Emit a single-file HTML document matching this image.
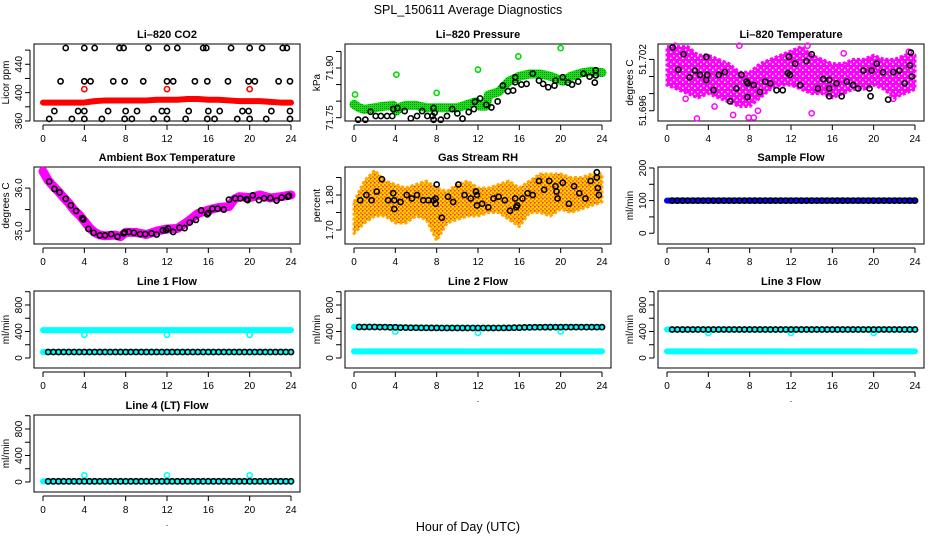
<!DOCTYPE html>
<html><head><meta charset="utf-8"><style>
html,body{margin:0;padding:0;background:#fff;}
svg{display:block;font-family:"Liberation Sans",Arial,sans-serif;}
</style></head><body>
<svg id="chart" width="936" height="540" viewBox="0 0 936 540" xmlns="http://www.w3.org/2000/svg">
<defs>
<pattern id="rhpat" width="4" height="4" patternUnits="userSpaceOnUse"><rect width="4" height="4" fill="#ffd000"/><rect width="2" height="2" fill="#ff8000"/><rect x="2" y="2" width="1.5" height="1.5" fill="#ff2000"/></pattern>
<pattern id="grpat" width="2" height="2" patternUnits="userSpaceOnUse"><rect width="2" height="2" fill="#00ee00"/><rect width="1" height="1" fill="#008800"/></pattern>
<pattern id="mgpat" width="6" height="6" patternUnits="userSpaceOnUse"><rect width="6" height="6" fill="#ff00ff"/><rect x="1" y="1" width="1.5" height="1.5" fill="#ffffff"/><rect x="4" y="3.5" width="1.5" height="1.5" fill="#ffffff"/></pattern>
</defs>
<text x="468" y="14" text-anchor="middle" font-size="12.5">SPL_150611  Average Diagnostics</text>
<text x="468" y="531" text-anchor="middle" font-size="12.5">Hour of Day (UTC)</text>
</svg>
<script>
// ---------- data ----------
const xTicks=[0,4,8,12,16,20,24];
// CO2
const co2BlackT=[2.2,4,5,7.4,7.8,10.2,12,13,15.5,15.8,18.2,20,21.2,23.2,23.6, 1.7,4,4.6,6.8,7.9,9.7,12,12.6,14.7,15.9,17.9,19.9,20.5,22.8,23.9, 1.1,3.4,4,6.3,8,9.1,11.5,12,14.1,16,17.1,19.3,19.9,22.1,23.9, 0.6,2.8,4,5.7,7.9,8.6,10.7,12,13.8,15.9,16.6,18.8,20,21.6,23.9];
const co2BlackV=[463,463,463,463,463,463,463,463,463,463,463,463,463,463,463, 416,416,416,416,416,416,416,416,416,416,416,416,416,416,416, 374,374,374,374,374,374,374,374,374,374,374,374,374,374,374, 363,363,363,363,363,363,363,363,363,363,363,363,363,363,363];
const hours=[0,1,2,3,4,5,6,7,8,9,10,11,12,13,14,15,16,17,18,19,20,21,22,23,24];
const co2Red=[386,386,386,386,386,388,389,389,389,389,389,390,390,390,391,391,390,390,389,388,388,388,387,386,386];
const co2OutT=[4,12,20];
const co2OutV=[405,405,405];
// Pressure
const prGreenT=[0,0.5,1,2,3,3.8,4.1,4.5,5,6,7,8,9,10,11,11.8,12.2,12.8,13,14,15,16,17,18,19,19.8,20.2,21,22,23,24];
const prGreenV=[71.79,71.78,71.775,71.78,71.785,71.787,71.77,71.782,71.787,71.787,71.78,71.78,71.78,71.78,71.79,71.798,71.785,71.785,71.818,71.828,71.86,71.875,71.882,71.882,71.875,71.865,71.86,71.875,71.885,71.89,71.886];
const prOutT=[0.1,4.1,8,12,15.9,20];
const prOutV=[71.82,71.88,71.825,71.895,71.935,71.96];
const prBlackT=[0.4,1.1,1.6,2.1,2.6,3.2,3.7,3.8,4.2,4.9,5.5,6.1,6.6,7.1,7.6,7.7,7.8,7.7,8.4,9,9.5,10,10.5,11.1,11.6,11.7,12.2,12.8,13.3,13.9,14.4,14.9,15.4,15.6,15.6,16.2,16.7,17.3,17.9,18.3,18.8,19.4,19.5,20.2,20.7,21.1,21.7,22.2,22.8,23.3,23.4,23.4];
const prBlackV=[71.744,71.744,71.768,71.755,71.755,71.755,71.755,71.776,71.779,71.77,71.748,71.755,71.77,71.755,71.755,71.779,71.765,71.744,71.744,71.755,71.776,71.763,71.747,71.767,71.776,71.798,71.808,71.789,71.781,71.799,71.847,71.83,71.832,71.872,71.857,71.85,71.852,71.883,71.862,71.852,71.842,71.847,71.862,71.872,71.856,71.85,71.859,71.883,71.874,71.856,71.893,71.878];
// Li-820 temperature
const tmpHi=[51.7035,51.7035,51.7035,51.7025,51.7025,51.702,51.7015,51.7005,51.7005,51.7015,51.702,51.7025,51.703,51.7035,51.7025,51.702,51.7015,51.7015,51.702,51.702,51.7025,51.702,51.702,51.7025,51.7025];
const tmpLo=[51.699,51.6985,51.698,51.6975,51.698,51.6975,51.697,51.6965,51.6965,51.6975,51.6985,51.699,51.699,51.6985,51.698,51.698,51.6975,51.698,51.6985,51.6985,51.699,51.6985,51.6975,51.698,51.6985];
const tmpOutT=[1.8,2.9,4.6,6.4,7.9,8.4,8.8,14.0,17.1,21.9,0.8,7.0,13.6,23.4];
const tmpOutV=[51.6974,51.6951,51.6965,51.6955,51.6952,51.6952,51.696,51.6957,51.7027,51.6974,51.7036,51.7036,51.7036,51.7029];
const tmpBlackT=[0.55,1.1,1.6,2.2,2.7,3.2,3.8,3.8,3.9,4.5,5,5.6,6.1,6.7,7.2,7.7,7.8,7.8,8.4,9,9.5,10,10.6,11.2,11.7,11.8,11.9,12.4,12.9,13.5,14,14.6,15.1,15.7,15.7,15.7,16.4,16.9,17.4,18,18.5,19,19.6,19.7,19.8,20.3,20.9,21.4,21.9,22.5,23,23.5,23.6,23.7];
const tmpBlackV=[51.7034,51.7008,51.7026,51.6999,51.7007,51.7002,51.6996,51.7023,51.7002,51.6984,51.7002,51.7005,51.6971,51.6986,51.7002,51.6994,51.6992,51.6976,51.699,51.6982,51.6994,51.6992,51.6984,51.6984,51.7004,51.7023,51.7002,51.7015,51.699,51.7018,51.7026,51.6986,51.6997,51.6996,51.6986,51.6977,51.6992,51.6977,51.6994,51.699,51.6986,51.7007,51.6986,51.6977,51.7007,51.7015,51.7005,51.6973,51.7005,51.7007,51.6992,51.7013,51.7028,51.7];
// Ambient box temperature
const ambT=[0,0.5,1,1.5,2,2.5,3,3.5,4,4.5,5,5.5,6,7,7.5,8,9,10,11,12,13,14,15,16,17,18,18.5,19,20,21,22,23,24];
const ambV=[36.39,36.18,36.04,35.92,35.78,35.65,35.49,35.38,35.23,35.08,34.97,34.91,34.89,34.91,34.87,34.97,34.97,34.92,35.0,35.05,35.06,35.22,35.41,35.49,35.55,35.57,35.74,35.8,35.78,35.84,35.77,35.8,35.84];
const ambBT=[0.6,1.1,1.6,2.2,2.7,3.2,3.8,3.9,4.4,4.9,5.5,6,6.6,7.2,7.8,7.9,8.3,8.8,9.4,9.9,10.5,11,11.6,11.9,12.1,12.6,13.2,13.7,14.2,14.8,15.3,15.9,16,16.4,16.9,17.5,18,18.6,19.1,19.7,19.8,20.3,20.9,21.4,22,22.6,23.1,23.7,23.8];
const ambBV=[36.15,35.98,35.9,35.75,35.6,35.47,35.3,35.27,35.05,34.96,34.9,34.9,34.93,34.87,34.95,34.97,34.98,34.96,34.93,34.93,34.95,34.92,35.02,35.02,35.06,34.98,35.08,35.07,35.2,35.26,35.48,35.39,35.42,35.52,35.52,35.5,35.73,35.76,35.76,35.74,35.72,35.83,35.72,35.76,35.77,35.71,35.78,35.8,35.82];
// Gas stream RH
const rhHi=[1.78,1.84,1.87,1.84,1.83,1.82,1.83,1.84,1.82,1.81,1.83,1.84,1.82,1.82,1.83,1.84,1.82,1.84,1.86,1.86,1.86,1.85,1.85,1.86,1.86];
const rhLo=[1.69,1.72,1.74,1.74,1.72,1.72,1.74,1.73,1.67,1.72,1.73,1.74,1.74,1.75,1.75,1.73,1.71,1.75,1.75,1.74,1.76,1.75,1.76,1.77,1.78];
const rhBT=[0.6,1.2,1.7,2.2,2.7,3.3,3.8,3.9,3.9,4.5,5.1,5.6,6.1,6.7,7.2,7.7,7.9,7.9,8.0,8.5,9.1,9.6,10.1,10.7,11.3,11.8,11.9,11.9,12.4,13.0,13.5,14.0,14.6,15.1,15.6,15.7,15.8,16.3,16.8,17.3,17.9,18.4,18.9,19.5,19.6,19.7,20.2,20.8,21.3,21.8,22.4,22.9,23.5,23.5,23.6,23.7];
const rhBV=[1.785,1.80,1.785,1.81,1.845,1.785,1.805,1.785,1.76,1.78,1.80,1.79,1.80,1.785,1.785,1.785,1.79,1.775,1.83,1.735,1.795,1.78,1.83,1.80,1.79,1.81,1.77,1.80,1.775,1.765,1.79,1.795,1.785,1.755,1.79,1.765,1.77,1.79,1.805,1.80,1.84,1.815,1.84,1.825,1.81,1.79,1.835,1.775,1.825,1.805,1.79,1.84,1.865,1.85,1.82,1.80];
// Sample flow
const sfBlue=[100,100,100,100,100,100,100,100,100,100,100,100,100,100,100,100,100,100,100,100,100,100,100,100,100];
const sfBlack=[100,100,100,100,100,100,100,100,100,100,100,100,100,100,100,100,100,100,100,100,100,100,100,100,100];
// line flows
const flowBT=[0.5,1,1.5,2,2.5,3,3.5,4,4.5,5,5.5,6,6.5,7,7.5,8,8.5,9,9.5,10,10.5,11,11.5,12,12.5,13,13.5,14,14.5,15,15.5,16,16.5,17,17.5,18,18.5,19,19.5,20,20.5,21,21.5,22,22.5,23,23.5,24];
const flowOutT=[4,12,20];
const l1Hi=[420,420,420,420,420,420,420,420,420,420,420,420,420,420,420,420,420,420,420,420,420,420,420,420,420];
const l1Lo=[90,90,90,90,90,90,90,90,90,90,90,90,90,90,90,90,90,90,90,90,90,90,90,90,90];
const l1Black=[90,90,90,90,90,90,90,90,90,90,90,90,90,90,90,90,90,90,90,90,90,90,90,90,90];
const l1Out=[350,350,350];
const l2Hi=[470,470,470,468,465,460,458,456,455,455,455,455,455,455,455,455,458,462,465,465,468,468,468,468,468];
const l2Lo=[100,100,100,100,100,100,100,100,100,100,100,100,100,100,100,100,100,100,100,100,100,100,100,100,100];
const l2Black=[468,468,468,466,463,458,456,455,454,453,453,453,453,453,453,454,457,462,464,465,466,466,466,466,466];
const l2Out=[400,380,400];
const l3Hi=[430,430,430,430,430,430,430,430,430,430,430,430,430,430,430,430,430,430,430,430,430,430,430,430,430];
const l3Lo=[100,100,100,100,100,100,100,100,100,100,100,100,100,100,100,100,100,100,100,100,100,100,100,100,100];
const l3Black=[430,430,430,430,430,430,430,430,430,430,430,430,430,430,430,430,430,430,430,430,430,430,430,430,430];
const l3Out=[380,380,380];
const l4Hi=[10,10,10,10,10,10,10,10,10,10,10,10,10,10,10,10,10,10,10,10,10,10,10,10,10];
const l4Black=[10,10,10,10,10,10,10,10,10,10,10,10,10,10,10,10,10,10,10,10,10,10,10,10,10];
const l4Out=[100,100,100];

// ---------- drawing ----------
const NS='http://www.w3.org/2000/svg';
const svg=document.getElementById('chart');
function el(tag,attrs,parent){const e=document.createElementNS(NS,tag);for(const k in attrs)e.setAttribute(k,attrs[k]);(parent||svg).appendChild(e);return e;}
const colX0=[43,354,667], rowT=[44,167,291,415], SPAN=248, BH=77;

function panel(name,col,row,title,ylab,yTop,yBot,ticks,labels){
  const x0=colX0[col], L=x0-9, R=x0+257, T=rowT[row], B=T+BH;
  const g=el('g',{});
  
  
  const x=h=>x0+h*SPAN/24;
  const y=v=>T+(yTop-v)/(yTop-yBot)*BH;
  const box=el('rect',{x:L,y:T,width:R-L,height:BH,fill:'none',stroke:'#000','stroke-width':1},g);
  
  
  const t=el('text',{x:(L+R)/2,y:T-6,'text-anchor':'middle','font-size':11,'font-weight':'bold'},g);
  t.textContent=title;
  
  
  const xa=el('g',{},g);
  
  
  el('line',{x1:x(0),x2:x(24),y1:B+4,y2:B+4,stroke:'#000'},xa);
  xTicks.forEach(h=>{
    el('line',{x1:x(h),x2:x(h),y1:B+4,y2:B+9,stroke:'#000'},xa);
    const tl=el('text',{x:x(h),y:B+21,'text-anchor':'middle','font-size':10},xa);
    tl.textContent=h;
    
    
  });
  const dot=el('text',{x:(L+R)/2,y:B+34,'text-anchor':'middle','font-size':9},g);dot.textContent='.';
  const ya=el('g',{},g);
  
  
  el('line',{x1:L-4,x2:L-4,y1:y(ticks[0]),y2:y(ticks[ticks.length-1]),stroke:'#000'},ya);
  ticks.forEach(v=>{
    el('line',{x1:L-9,x2:L-4,y1:y(v),y2:y(v),stroke:'#000'},ya);
  });
  labels.forEach(s=>{
    const v=parseFloat(s);
    const tl=el('text',{x:0,y:0,'text-anchor':'middle','font-size':10,transform:`translate(${L-12},${y(v)}) rotate(-90)`},ya);
    tl.textContent=s;
    
    
  });
  const yl=el('text',{x:0,y:0,'text-anchor':'middle','font-size':10,transform:`translate(${L-25},${(T+B)/2}) rotate(-90)`},g);
  yl.textContent=ylab;
  
  
  const clip='c'+name;
  const cp=el('clipPath',{id:clip},g);el('rect',{x:L,y:T-3,width:R-L,height:BH+6},cp);
  const marks=el('g',{'clip-path':`url(#${clip})`},g);
  
  
  return {x,y,g:marks};
}
function circles(p,ts,vs,color,name,r,sw){
  const g=el('g',{},p.g);
  
  
  ts.forEach((t,i)=>{
    const c=el('circle',{cx:p.x(t),cy:p.y(vs[i]),r:r||2.6,fill:'none',stroke:color,'stroke-width':sw||1.6},g);
    
    
  });
}
function band(p,ts,vs,color,w,name){
  const pl=el('polyline',{points:ts.map((t,i)=>p.x(t)+','+p.y(vs[i])).join(' '),fill:'none',stroke:color,'stroke-width':w,'stroke-linejoin':'round','stroke-linecap':'round'},p.g);
  
  
}
function area(p,ts,hi,lo,fill,stroke,name){
  const pts=ts.map((t,i)=>p.x(t)+','+p.y(hi[i])).concat(ts.slice().reverse().map((t,j)=>p.x(t)+','+p.y(lo[ts.length-1-j])));
  const pg=el('polygon',{points:pts.join(' '),fill:fill,stroke:stroke,'stroke-width':3,'stroke-linejoin':'round','stroke-dasharray':'3 2'},p.g);
  
  
}
const nearest=(arr,t)=>arr[Math.min(24,Math.max(0,Math.round(t)))];

let p=panel('co2',0,0,'Li\u2013820 CO2','Licor ppm',468.6,360,[360,380,400,420,440,460],['360','400','440']);
band(p,hours,co2Red,'#ff0000',6,'co2-red-series');
circles(p,co2OutT,co2OutV,'#ff0000','co2-red-outliers');
circles(p,co2BlackT,co2BlackV,'#000','co2-black-series');

p=panel('pressure',1,0,'Li\u2013820 Pressure','kPa',71.9725,71.740,[71.75,71.80,71.85,71.90,71.95],['71.75','71.90']);
band(p,prGreenT,prGreenV,'url(#grpat)',9,'pressure-green-series');
circles(p,prOutT,prOutV,'#00dd00','pressure-green-outliers');
circles(p,prBlackT,prBlackV,'#000','pressure-black-series');

p=panel('li820-temp',2,0,'Li\u2013820 Temperature','degrees C',51.7038,51.6948,[51.696,51.698,51.700,51.702],['51.696','51.702']);
area(p,hours,tmpHi,tmpLo,'url(#mgpat)','#ff00ff','temp-magenta-series');
circles(p,tmpOutT,tmpOutV,'#ff00ff','temp-magenta-outliers',2.6,1.5);
circles(p,tmpBlackT,tmpBlackV,'#000','temp-black-series');

p=panel('ambient-temp',0,1,'Ambient Box Temperature','degrees C',36.49,34.70,[35.0,35.5,36.0],['35.0','36.0']);
band(p,ambT,ambV,'#ff00ff',9,'ambient-magenta-series');
circles(p,ambBT,ambBV,'#000','ambient-black-series');

p=panel('gas-rh',1,1,'Gas Stream RH','percent',1.88,1.66,[1.70,1.75,1.80,1.85],['1.70','1.80']);
area(p,hours,rhHi,rhLo,'url(#rhpat)','#ffa500','rh-orange-series');
circles(p,rhBT,rhBV,'#000','rh-black-series');

p=panel('sample-flow',2,1,'Sample Flow','ml/min',203,-33,[0,50,100,150,200],['0','100','200']);
band(p,hours,sfBlue,'#0000ff',6,'sample-flow-blue-series');
circles(p,flowBT,flowBT.map(t=>nearest(sfBlack,t)),'#000','sample-flow-black-series');

function flowPanel(name,col,row,title,hi,lo,blk,out){
  const q=panel(name,col,row,title,'ml/min',1011,-151,[0,200,400,600,800,1000],['0','400','800']);
  band(q,hours,hi,'#00ffff',6,name+'-cyan-series');
  if(lo) band(q,hours,lo,'#00ffff',6,name+'-cyan-low-series');
  circles(q,flowOutT,out,'#00ffff',name+'-cyan-outliers');
  circles(q,flowBT,flowBT.map(t=>nearest(blk,t)),'#000',name+'-black-series');
}
flowPanel('line1-flow',0,2,'Line 1 Flow',l1Hi,l1Lo,l1Black,l1Out);
flowPanel('line2-flow',1,2,'Line 2 Flow',l2Hi,l2Lo,l2Black,l2Out);
flowPanel('line3-flow',2,2,'Line 3 Flow',l3Hi,l3Lo,l3Black,l3Out);
flowPanel('line4-flow',0,3,'Line 4 (LT) Flow',l4Hi,null,l4Black,l4Out);
</script>
</body></html>
